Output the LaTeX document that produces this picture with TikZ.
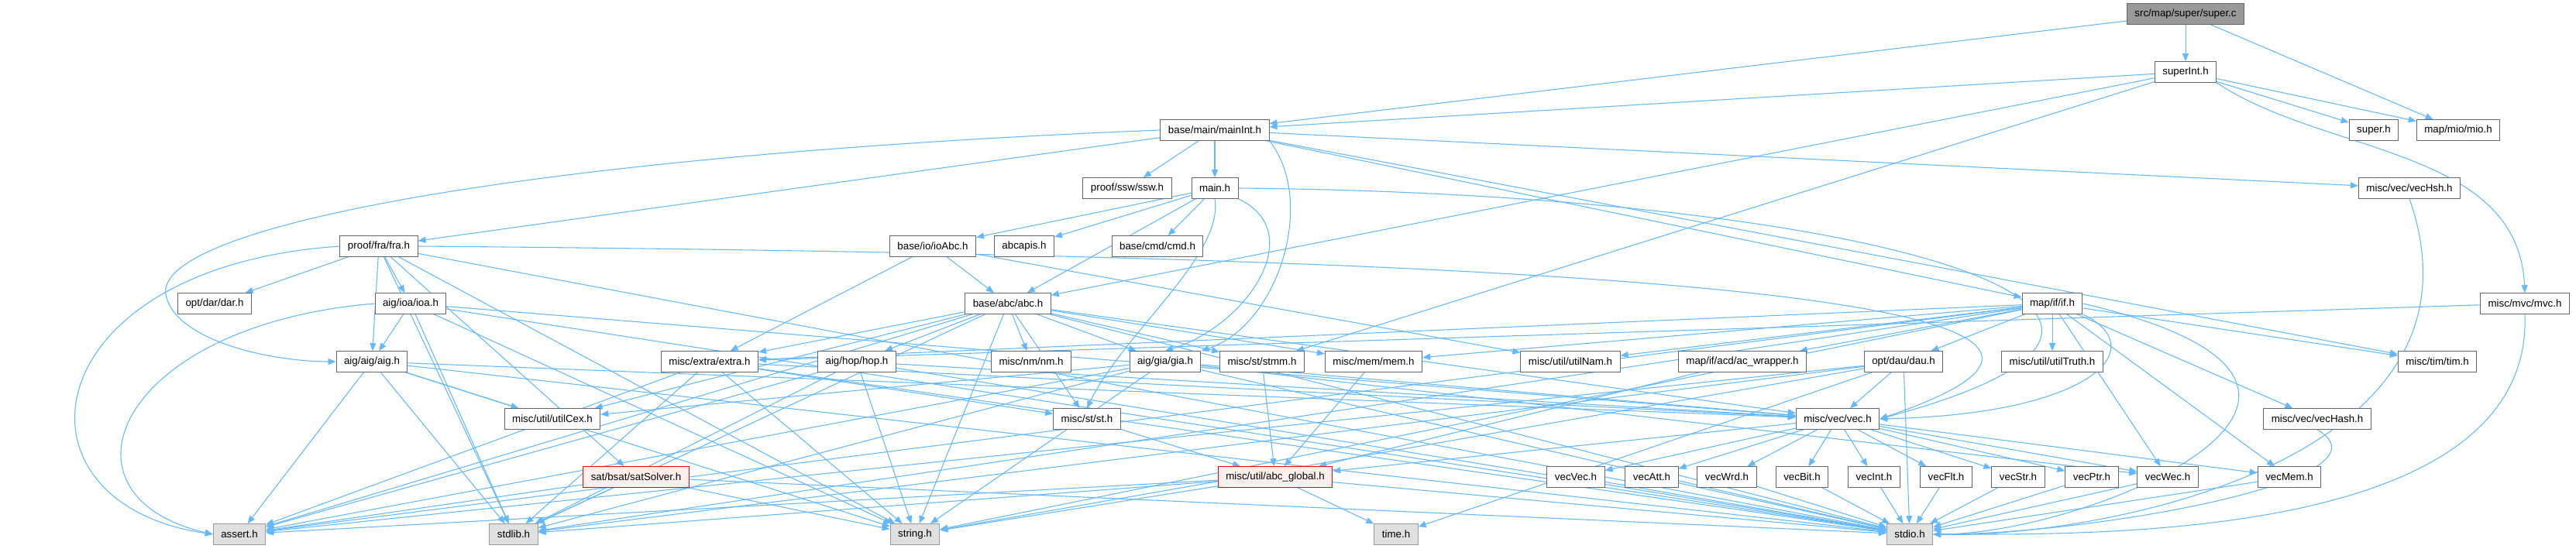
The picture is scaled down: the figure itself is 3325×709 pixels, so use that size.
\documentclass[tikz,border=0pt]{standalone}
\usepackage{fontspec}
\setmainfont{Liberation Sans}
\usetikzlibrary{arrows.meta}
\definecolor{edgeblue}{HTML}{63B8FF}
\definecolor{nodegray}{HTML}{666666}
\definecolor{rootgray}{HTML}{999999}
\definecolor{sysgray}{HTML}{999999}
\definecolor{sysfill}{HTML}{E0E0E0}
\definecolor{truncfill}{HTML}{FFF0F0}
\pgfdeclarelayer{edges}
\pgfsetlayers{edges,main}

\begin{document}
\begin{tikzpicture}[x=0.75pt,y=-0.75pt,
  hdr/.style={draw=nodegray,fill=white,line width=0.75pt,inner xsep=7.5pt,inner ysep=0pt,minimum height=20pt,font=\fontsize{10}{12}\selectfont},
  root/.style={fill=rootgray},
  sys/.style={draw=sysgray,fill=sysfill},
  trunc/.style={draw=red,fill=truncfill},
  dep/.style={draw=edgeblue,line width=0.8pt,-{Triangle[length=7.5pt,width=6pt]}}]
\useasboundingbox (0,0) rectangle (3325,709);

% Rows of the include graph
\node[hdr,root] (nSuperC) at (2821,18) {src/map/super/super.c};
\node[hdr] (nSuperInt) at (2821,93) {superInt.h};
\node[hdr] (nMainInt) at (1568,168) {base/main/mainInt.h};
\node[hdr] (nSuperH) at (3064,168) {super.h};
\node[hdr] (nMio) at (3173,168) {map/mio/mio.h};
\node[hdr] (nSsw) at (1455,243) {proof/ssw/ssw.h};
\node[hdr] (nMain) at (1568,243) {main.h};
\node[hdr] (nVecHsh) at (3110,243) {misc/vec/vecHsh.h};
\node[hdr] (nFra) at (489,318) {proof/fra/fra.h};
\node[hdr] (nIoAbc) at (1204,318) {base/io/ioAbc.h};
\node[hdr] (nAbcapis) at (1322,318) {abcapis.h};
\node[hdr] (nCmd) at (1494,318) {base/cmd/cmd.h};
\node[hdr] (nDar) at (277,392) {opt/dar/dar.h};
\node[hdr] (nIoa) at (530,392) {aig/ioa/ioa.h};
\node[hdr] (nAbc) at (1301,392) {base/abc/abc.h};
\node[hdr] (nIf) at (2649,392) {map/if/if.h};
\node[hdr] (nMvc) at (3259,392) {misc/mvc/mvc.h};
\node[hdr] (nAig) at (480,467) {aig/aig/aig.h};
\node[hdr] (nExtra) at (916,467) {misc/extra/extra.h};
\node[hdr] (nHop) at (1106,467) {aig/hop/hop.h};
\node[hdr] (nNm) at (1331,467) {misc/nm/nm.h};
\node[hdr] (nGia) at (1504,467) {aig/gia/gia.h};
\node[hdr] (nStmm) at (1629,467) {misc/st/stmm.h};
\node[hdr] (nMem) at (1773,467) {misc/mem/mem.h};
\node[hdr] (nUtilNam) at (2027,467) {misc/util/utilNam.h};
\node[hdr] (nAcw) at (2249,467) {map/if/acd/ac\_wrapper.h};
\node[hdr] (nDau) at (2457,467) {opt/dau/dau.h};
\node[hdr] (nUtilTruth) at (2649,467) {misc/util/utilTruth.h};
\node[hdr] (nTim) at (3146,467) {misc/tim/tim.h};
\node[hdr] (nUtilCex) at (713,541) {misc/util/utilCex.h};
\node[hdr] (nSt) at (1403,541) {misc/st/st.h};
\node[hdr] (nVec) at (2372,541) {misc/vec/vec.h};
\node[hdr] (nVecHash) at (2991,541) {misc/vec/vecHash.h};
\node[hdr,trunc] (nSatSolver) at (821,616) {sat/bsat/satSolver.h};
\node[hdr,trunc] (nAbcGlobal) at (1646,616) {misc/util/abc\_global.h};
\node[hdr] (nVecVec) at (2034,616) {vecVec.h};
\node[hdr] (nVecAtt) at (2132,616) {vecAtt.h};
\node[hdr] (nVecWrd) at (2229,616) {vecWrd.h};
\node[hdr] (nVecBit) at (2326,616) {vecBit.h};
\node[hdr] (nVecInt) at (2419,616) {vecInt.h};
\node[hdr] (nVecFlt) at (2512,616) {vecFlt.h};
\node[hdr] (nVecStr) at (2605,616) {vecStr.h};
\node[hdr] (nVecPtr) at (2700,616) {vecPtr.h};
\node[hdr] (nVecWec) at (2798,616) {vecWec.h};
\node[hdr] (nVecMem) at (2955,616) {vecMem.h};
\node[hdr,sys] (nAssert) at (309,690) {assert.h};
\node[hdr,sys] (nStdlib) at (663,690) {stdlib.h};
\node[hdr,sys] (nString) at (1181,690) {string.h};
\node[hdr,sys] (nTime) at (1802,690) {time.h};
\node[hdr,sys] (nStdio) at (2465,690) {stdio.h};

\begin{pgfonlayer}{edges}
% project headers
\foreach \s/\t in {nSuperC/nSuperInt,nSuperC/nMainInt,nSuperC/nMio,
    nSuperInt/nMainInt,nSuperInt/nAbc,nSuperInt/nStmm,nSuperInt/nSuperH,nSuperInt/nMio,
    nMainInt/nMain,nMainInt/nSsw,nMainInt/nFra,nMainInt/nIf,nMainInt/nTim,nMainInt/nVecHsh,
    nMain/nIoAbc,nMain/nAbcapis,nMain/nCmd,nMain/nAbc,
    nIoAbc/nAbc,nIoAbc/nExtra,nIoAbc/nUtilNam,
    nFra/nDar,nFra/nIoa,nFra/nAig,nFra/nSatSolver,
    nIoa/nAig,nIoa/nVec,nAig/nVec,nAig/nUtilCex,
    nAbc/nExtra,nAbc/nHop,nAbc/nNm,nAbc/nGia,nAbc/nStmm,nAbc/nSt,nAbc/nMem,nAbc/nUtilCex,nAbc/nVec,
    nIf/nExtra,nIf/nMem,nIf/nUtilNam,nIf/nAcw,nIf/nDau,nIf/nUtilTruth,nIf/nTim,nIf/nVecHash,nIf/nVecMem,nIf/nVecWec,
    nMvc/nExtra,nExtra/nSt,nExtra/nVec,nHop/nVec,nGia/nVec,nGia/nVecWec,nGia/nUtilCex,
    nStmm/nAbcGlobal,nMem/nAbcGlobal,nSt/nAbcGlobal,nAcw/nAbcGlobal,nDau/nVec,nDau/nTime,
    nVec/nAbcGlobal,nAbcGlobal/nTime}
  \draw[dep] (\s) -- (\t);

% curved routes
\draw[dep] (nSuperInt.south east) .. controls (3000,200) and (3250,190) .. (nMvc.north);
\draw[dep] (nMainInt.west) .. controls (700,200) and (200,290) .. (214,380) .. controls (225,440) and (350,467) .. (nAig.west);
\draw[dep] (nMainInt.south east) .. controls (1700,260) and (1650,420) .. (nGia.north east);
\draw[dep] (nMain.south east) .. controls (1690,300) and (1610,420) .. (nGia.north);
\draw[dep] (nMain.south) .. controls (1580,330) and (1450,430) .. (nSt.north);
\draw[dep] (nMain.east) .. controls (2400,250) and (2950,400) .. (nVec.east);
\draw[dep] (nFra.east) .. controls (2000,330) and (2900,380) .. (nVec.east);
\draw[dep] (nIf.south east) .. controls (2780,450) and (2700,535) .. (nVec.east);
\draw[dep] (nFra.west) .. controls (40,345) and (0,650) .. (nAssert.west);
\draw[dep] (nIoa.west) .. controls (150,420) and (60,640) .. (nAssert.west);

% vec.h family
\foreach \t in {nVecVec,nVecAtt,nVecWrd,nVecBit,nVecInt,nVecFlt,nVecStr,nVecPtr,nVecWec,nVecMem} {
  \draw[dep] (nVec) -- (\t);
  \draw[dep] (\t) -- (nStdio);
}

% system headers
\foreach \s in {nFra,nIoa,nAig,nAbc,nIf,nExtra,nHop,nGia,nDau,nSatSolver,nAbcGlobal} {
  \draw[dep] (\s) -- (nStdlib);
  \draw[dep] (\s) -- (nString);
}
\foreach \s in {nAig,nAbc,nIf,nExtra,nHop,nGia,nDau,nSatSolver,nAbcGlobal}
  \draw[dep] (\s) -- (nAssert);
\foreach \s in {nFra,nIoa,nAig,nAbc,nExtra,nHop,nGia,nDau,nSatSolver,nAbcGlobal}
  \draw[dep] (\s) -- (nStdio);
\draw[dep] (nIf.east) .. controls (3150,500) and (2700,690) .. (nStdio.east);
\draw[dep] (nMvc.south) .. controls (3270,700) and (2700,690) .. (nStdio.east);
\draw[dep] (nVecHsh.south) .. controls (3230,600) and (2700,695) .. (nStdio.east);
\draw[dep] (nVecHash.south) .. controls (3100,620) and (2700,690) .. (nStdio.east);
\end{pgfonlayer}
\end{tikzpicture}
\end{document}
